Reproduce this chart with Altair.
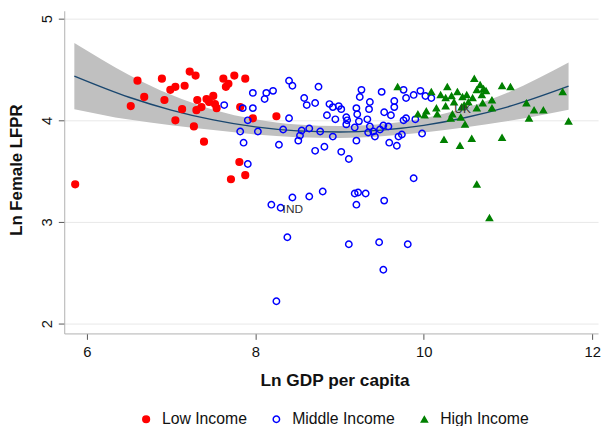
import altair as alt
import pandas as pd

groups = ["Low Income", "Middle Income", "High Income"]

low_x = [5.86, 6.52, 6.60, 6.68, 6.89, 6.92, 6.99, 7.05, 7.05, 7.13, 7.16, 7.22,
         7.29, 7.27, 7.31, 7.30, 7.36, 7.39, 7.42, 7.50, 7.45, 7.52, 7.54, 7.62,
         7.65, 7.68, 7.75, 7.88, 7.82, 7.97, 8.25, 7.81, 7.71, 7.88]
low_y = [3.37, 4.14, 4.39, 4.23, 4.41, 4.20, 4.30, 4.33, 4.00, 4.11, 4.34, 4.48,
         4.44, 3.94, 4.20, 4.10, 4.13, 3.79, 4.21, 4.24, 4.18, 4.16, 4.12, 4.41,
         4.33, 4.36, 4.44, 4.41, 4.13, 4.02, 4.04, 3.59, 3.42, 3.46]

mid_x = [7.63, 7.85, 7.97, 7.97, 7.91, 7.82, 7.86, 7.91, 8.03, 8.13, 8.21, 8.11,
         8.40, 8.44, 8.75, 8.58, 8.61, 8.71, 8.40, 8.33, 8.28, 8.55, 8.64, 8.53,
         8.51, 8.77, 8.88, 8.92, 8.99, 9.02, 8.85, 8.95, 9.08, 9.09, 9.08, 8.92,
         8.82, 8.71, 9.02, 9.11, 9.20, 9.21, 9.23, 9.18, 9.20, 9.26, 9.24, 9.50,
         9.36, 9.35, 9.33, 9.36, 9.34, 9.40, 9.42, 9.48, 9.52, 9.58, 9.53, 9.61,
         9.65, 9.65, 9.59, 9.68, 9.70, 9.74, 9.76, 9.79, 9.88, 9.96, 10.02, 10.09,
         9.76, 9.79, 9.90, 9.98, 9.88, 8.19, 8.30, 8.44, 8.64, 8.80, 9.18, 9.22,
         9.31, 9.20, 9.53, 8.38, 9.11, 9.47, 9.81, 9.52, 8.25]
mid_y = [4.15, 4.12, 4.27, 4.12, 4.00, 3.89, 3.78, 3.57, 3.89, 4.27, 4.29, 4.21,
         4.39, 4.34, 4.33, 4.22, 4.15, 4.17, 4.02, 3.91, 3.76, 3.90, 3.92, 3.85,
         3.80, 3.89, 4.16, 4.13, 4.14, 4.11, 4.05, 4.01, 4.03, 4.00, 3.96, 3.84,
         3.74, 3.70, 3.69, 3.62, 4.12, 4.06, 3.99, 3.93, 3.80, 4.30, 4.23, 4.28,
         4.18, 4.11, 4.01, 3.94, 3.88, 3.89, 3.84, 3.91, 3.95, 3.94, 4.08, 4.05,
         4.19, 4.13, 3.78, 3.75, 3.84, 3.86, 4.30, 4.22, 4.25, 4.29, 4.24, 4.22,
         4.00, 4.02, 4.01, 3.87, 3.43, 3.17, 3.14, 3.24, 3.25, 3.30, 3.28, 3.29,
         3.28, 3.17, 3.21, 2.85, 2.78, 2.80, 2.78, 2.53, 2.22]

high_x = [9.69, 9.93, 10.03, 10.01, 10.15, 10.16, 10.09, 10.20, 10.28, 10.26, 10.33, 10.36,
          10.40, 10.46, 10.51, 10.53, 10.45, 10.32, 10.34, 10.44, 10.49, 10.24, 10.43, 10.57,
          10.60, 10.67, 10.63, 10.71, 10.74, 10.69, 10.58, 10.81, 10.93, 11.03, 10.48, 10.70,
          10.63, 10.81, 10.26, 11.22, 11.31, 11.42, 11.25, 11.65, 11.72, 10.93, 10.63, 10.78]
high_y = [4.33, 4.06, 4.09, 4.05, 4.12, 4.06, 4.28, 4.25, 4.33, 4.22, 4.24, 4.18,
          4.28, 4.23, 4.25, 4.18, 4.13, 4.02, 4.06, 4.03, 3.96, 3.81, 3.75, 3.82,
          4.41, 4.35, 4.30, 4.31, 4.29, 4.25, 4.22, 4.20, 4.34, 4.33, 4.15, 4.17,
          4.12, 4.12, 4.14, 4.17, 4.10, 4.10, 4.02, 4.28, 3.99, 3.83, 3.37, 3.04]

# quadratic fit with 95% CI
fit_x = [5.85, 6.5, 7.0, 7.5, 8.0, 8.5, 9.0, 9.5, 10.0, 10.5, 11.0, 11.72]
fit_y = [4.435, 4.227, 4.101, 4.004, 3.935, 3.896, 3.885, 3.904, 3.951, 4.028, 4.133, 4.336]
fit_hi = [4.760, 4.447, 4.251, 4.104, 4.010, 3.958, 3.943, 3.964, 4.021, 4.123, 4.273, 4.568]
fit_lo = [4.110, 4.007, 3.951, 3.904, 3.860, 3.834, 3.827, 3.844, 3.881, 3.933, 3.993, 4.104]

label_text = ["IND", "UK"]
label_x = [8.30, 10.34]
label_y = [3.14, 4.12]

rows = []
for g, xs, ys in zip(groups, [low_x, mid_x, high_x], [low_y, mid_y, high_y]):
    rows += [{"gdp": a, "lfpr": b, "group": g} for a, b in zip(xs, ys)]
pts = pd.DataFrame(rows)
fit = pd.DataFrame({"gdp": fit_x, "fit": fit_y, "lo": fit_lo, "hi": fit_hi})
labs = pd.DataFrame({"gdp": label_x, "lfpr": label_y, "name": label_text})

FONT = "Liberation Sans"
xscale = alt.Scale(domain=[5.73, 12.07], nice=False, zero=False)
yscale = alt.Scale(domain=[1.903, 5.078], nice=False, zero=False)

xaxis = alt.Axis(values=[6, 8, 10, 12], format="d", title="Ln GDP per capita", grid=False,
                 labelFontSize=15, labelColor="#111", labelPadding=5, labelFont=FONT,
                 tickSize=6, tickColor="#555", domainColor="#b0b0b0", domainWidth=1,
                 titleFontSize=17.5, titleFontWeight="bold", titleFont=FONT, titleColor="#111",
                 titleX=274, titleY=53, titleAlign="center", titleBaseline="alphabetic")
yaxis = alt.Axis(values=[2, 3, 4, 5], format="d", title="Ln Female LFPR", grid=True,
                 gridColor="#e8e8e8", gridWidth=1,
                 labelAngle=270, labelAlign="center", labelBaseline="alphabetic",
                 labelFontSize=15, labelColor="#111", labelPadding=7, labelFont=FONT,
                 tickSize=6, tickColor="#555", domainColor="#b0b0b0", domainWidth=1,
                 titleFontSize=17, titleFontWeight="bold", titleFont=FONT, titleColor="#111",
                 titleAngle=270, titleX=-43, titleY=161, titleAlign="center",
                 titleBaseline="alphabetic")

band = alt.Chart(fit).mark_area(color="#c0c0c0", opacity=1, interpolate="monotone").encode(
    x=alt.X("gdp:Q", scale=xscale, axis=xaxis),
    y=alt.Y("lo:Q", scale=yscale, axis=yaxis),
    y2="hi:Q",
)
line = alt.Chart(fit).mark_line(color="#1a476f", strokeWidth=1.4, interpolate="monotone").encode(
    x=alt.X("gdp:Q", scale=xscale),
    y=alt.Y("fit:Q", scale=yscale),
)

leg = alt.Legend(title=None, orient="none", legendX=75, legendY=406, direction="horizontal",
                 columns=3, labelFontSize=16, labelFont=FONT, labelColor="#111",
                 columnPadding=21, labelOffset=8, padding=0, symbolStrokeWidth=1.5)

points = alt.Chart(pts).mark_point(strokeWidth=1.5, opacity=1).encode(
    x=alt.X("gdp:Q", scale=xscale),
    y=alt.Y("lfpr:Q", scale=yscale),
    color=alt.Color("group:N", scale=alt.Scale(domain=groups, range=["#ff0000", "#0000ff", "#008000"]), legend=leg),
    fill=alt.Fill("group:N", scale=alt.Scale(domain=groups, range=["#ff0000", "transparent", "#008000"]), legend=leg),
    shape=alt.Shape("group:N", scale=alt.Scale(domain=groups, range=["circle", "circle", "triangle-up"]), legend=leg),
    size=alt.Size("group:N", scale=alt.Scale(domain=groups, range=[46, 38, 48]), legend=leg),
)

labels = alt.Chart(labs).mark_text(align="left", baseline="middle", dx=2, dy=1,
                                   fontSize=12, font=FONT, color="#333").encode(
    x=alt.X("gdp:Q", scale=xscale),
    y=alt.Y("lfpr:Q", scale=yscale),
    text="name:N",
)

chart = alt.layer(band, line, points, labels).properties(
    width=541, height=327,
    autosize=alt.AutoSizeParams(type="none"),
    padding={"left": 57, "top": 0, "right": 3, "bottom": 91},
    background="white",
).configure_view(stroke=None)

chart.save("out.html", embed_options={"renderer": "svg", "actions": False})
